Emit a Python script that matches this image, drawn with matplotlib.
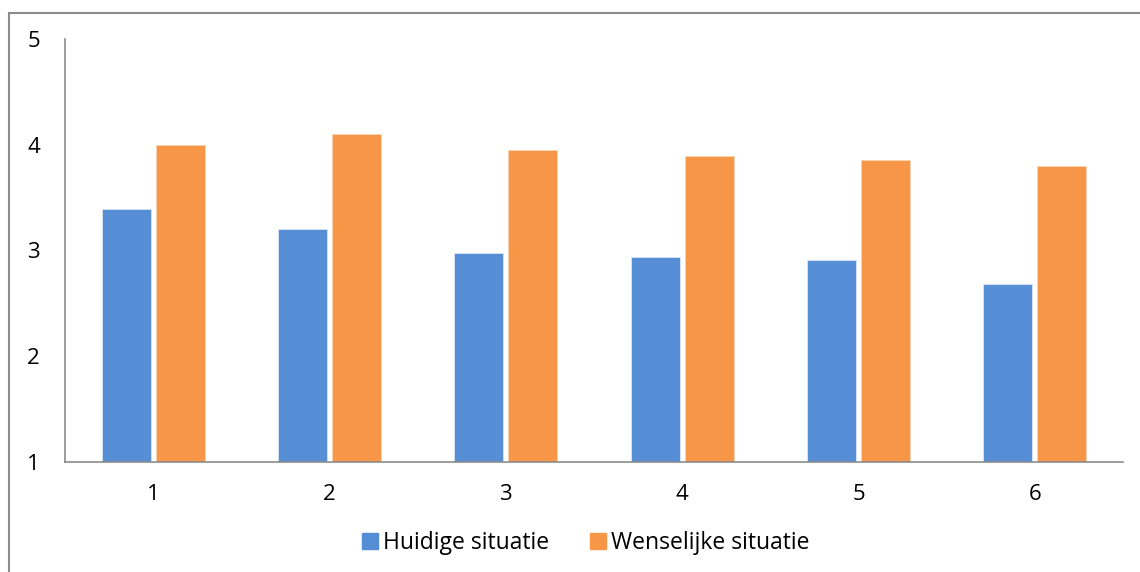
import matplotlib

matplotlib.use("Agg")
import matplotlib.pyplot as plt
import matplotlib.patches as mpatches
import numpy as np

categorieen = ["1", "2", "3", "4", "5", "6"]
huidige = [3.39, 3.20, 2.98, 2.94, 2.91, 2.68]
wenselijke = [4.00, 4.10, 3.95, 3.89, 3.86, 3.80]
y_ticks = [1, 2, 3, 4, 5]

BLAUW = "#558ED5"
ORANJE = "#F79646"
GRIJS = "#8C8C8C"

plt.rcParams["font.family"] = ["Open Sans", "DejaVu Sans"]

fig = plt.figure(figsize=(11.4, 5.72), dpi=100)
ax = fig.add_axes([65 / 1140, 1 - 462 / 572, (1123 - 65) / 1140, (462 - 39) / 572])

x = np.arange(len(categorieen))
breedte = 0.278
ax.bar(x - 0.154, huidige, breedte, bottom=0, color=BLAUW, edgecolor="#DCE6F5",
       linewidth=0.6, label="Huidige situatie")
ax.bar(x + 0.154, wenselijke, breedte, bottom=0, color=ORANJE, edgecolor="#FBD5B5",
       linewidth=0.6, label="Wenselijke situatie")

ax.set_xlim(-0.5, len(categorieen) - 0.5)
ax.set_ylim(1, 5)
ax.set_yticks(y_ticks)
ax.set_yticklabels([str(t) for t in y_ticks])
ax.set_xticks(x)
ax.set_xticklabels(categorieen)
ax.tick_params(axis="both", length=0, labelsize=16, colors="#000000")
ax.tick_params(axis="y", pad=18)
ax.tick_params(axis="x", pad=16)

for kant in ("top", "right"):
    ax.spines[kant].set_visible(False)
for kant in ("left", "bottom"):
    ax.spines[kant].set_color(GRIJS)
    ax.spines[kant].set_linewidth(1.2)

# kader rond de grafiek (rechts en onder afgesneden)
kader = mpatches.Rectangle((9 / 1140, -0.1), 1.2, 1.1 - 13 / 572, transform=fig.transFigure,
                           fill=False, edgecolor=GRIJS, linewidth=1.5, clip_on=False)
fig.patches.append(kader)

handles = [mpatches.Patch(color=BLAUW, label="Huidige situatie"),
           mpatches.Patch(color=ORANJE, label="Wenselijke situatie")]
fig.legend(handles=handles, loc="center", bbox_to_anchor=(586 / 1140, 1 - 543 / 572),
           ncol=2, frameon=False, fontsize=16.5, handlelength=0.7, handleheight=0.68,
           handletextpad=0.2, columnspacing=1.8)

fig.savefig("out.png", dpi=100)
